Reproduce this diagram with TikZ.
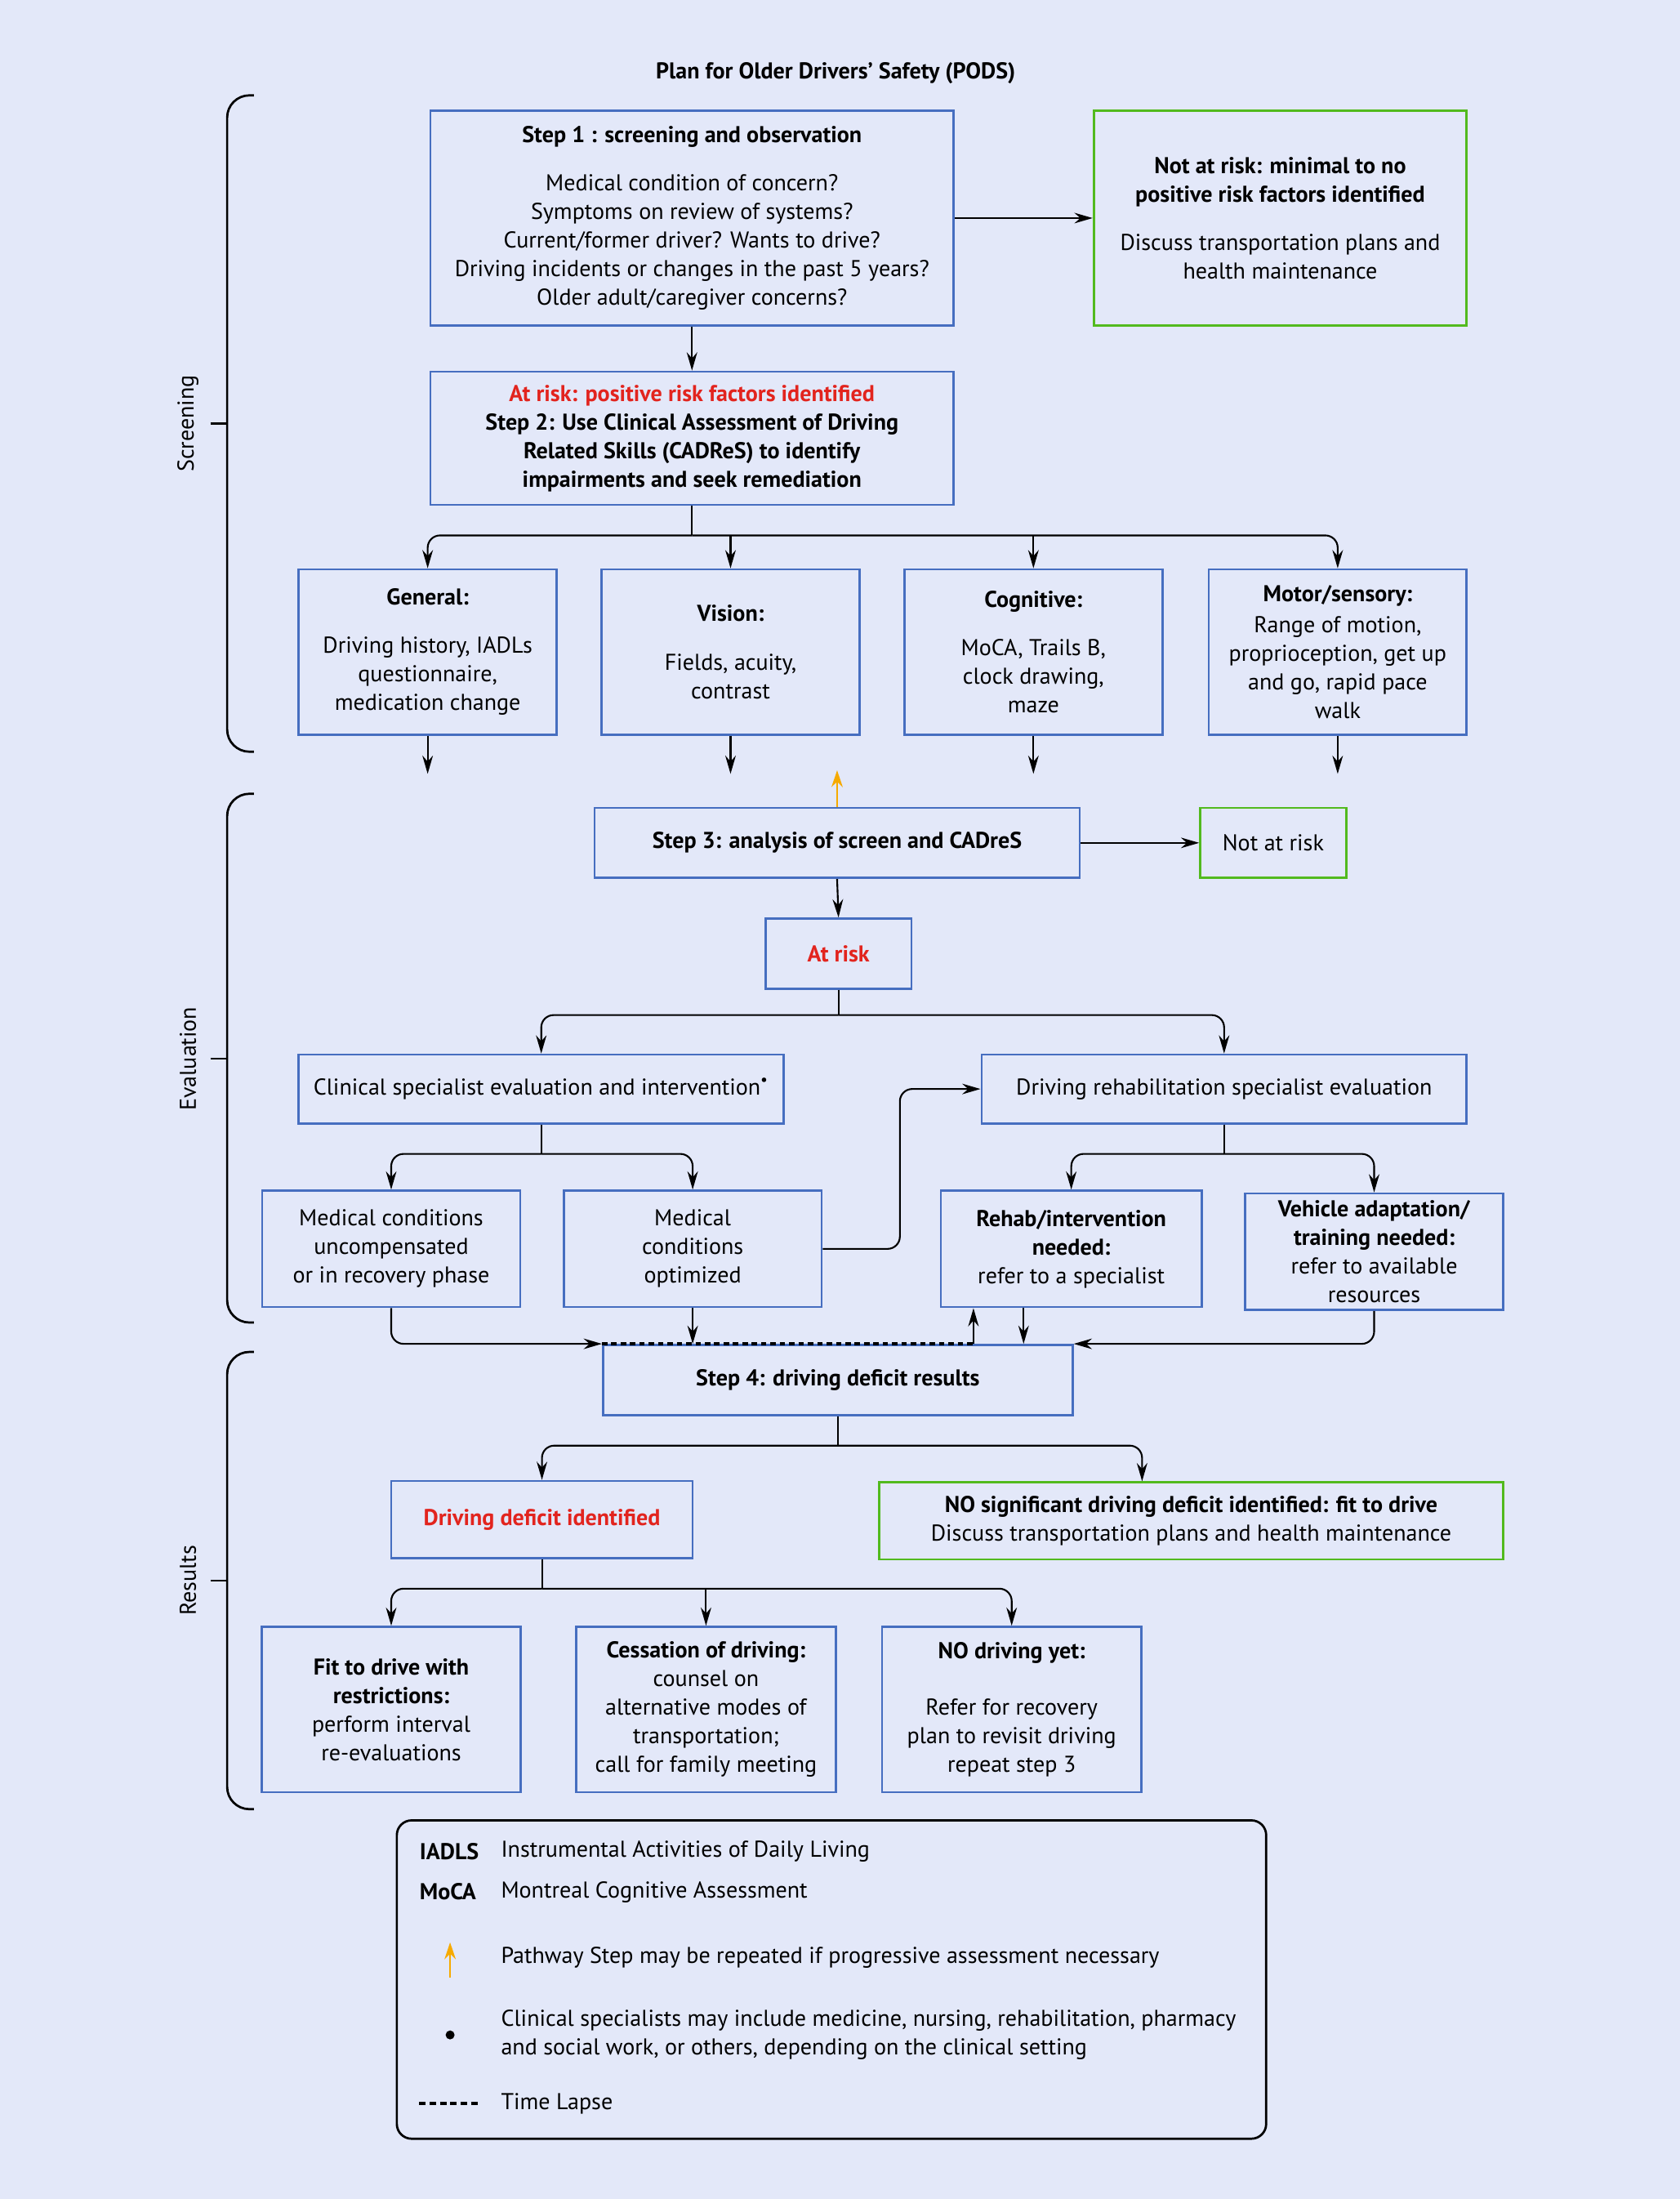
\documentclass[tikz,border=0pt]{standalone}
\usepackage{fontspec}
\setmainfont{PT Sans}
\usetikzlibrary{positioning,arrows.meta,calc}

\definecolor{bgcol}{RGB}{227,232,249}
\definecolor{boxblue}{RGB}{70,110,192}
\definecolor{okgreen}{RGB}{82,186,30}
\definecolor{riskred}{RGB}{226,36,30}
\definecolor{repeatorange}{RGB}{246,170,0}

\begin{document}
\begin{tikzpicture}[x=0.02cm, y=-0.02cm,
  every node/.style={font=\fontsize{9.3}{11.6}\selectfont},
  box/.style={draw=boxblue, line width=0.9pt, align=center, inner sep=1pt},
  okbox/.style={draw=okgreen, line width=0.9pt, align=center, inner sep=1pt},
  arr/.style={-{Stealth[length=2.6mm,width=1.5mm]}, line width=0.7pt},
  legtext/.style={anchor=west, inner sep=0pt, align=left}]

  \fill[bgcol] (0,0) rectangle (1198,1568);
  \useasboundingbox (0,0) rectangle (1198,1568);

  \node (title) at (596,52) {\textbf{Plan for Older Drivers' Safety (PODS)}};

  % Section brackets
  \foreach \top/\bot/\mid/\name in {68/536/302/Screening, 566/943/755/Evaluation, 964/1290/1127/Results} {
    \draw[line width=0.9pt, rounded corners=9pt] (181,\top) -- (162,\top) -- (162,\bot) -- (181,\bot);
    \draw[line width=0.7pt] (150,\mid) -- (162,\mid);
    \node[rotate=90] at (134,\mid) {\name};
  }

  % Step 1 and 2
  \node[box, minimum width=7.46cm, minimum height=3.06cm] (step1) at (493.5,155.5)
    {\textbf{Step 1 : screening and observation}\\[8pt]
     Medical condition of concern?\\ Symptoms on review of systems?\\
     Current/former driver? Wants to drive?\\
     Driving incidents or changes in the past 5 years?\\ Older adult/caregiver concerns?};
  \node[okbox, minimum width=5.32cm, minimum height=3.06cm] (noriskA) at (913,155.5)
    {\textbf{Not at risk: minimal to no}\\ \textbf{positive risk factors identified}\\[8pt]
     Discuss transportation plans and\\ health maintenance};
  \node[box, minimum width=7.46cm, minimum height=1.9cm] (step2) at (493.5,312.5)
    {\textcolor{riskred}{\textbf{At risk: positive risk factors identified}}\\
     \textbf{Step 2: Use Clinical Assessment of Driving}\\
     \textbf{Related Skills (CADReS) to identify}\\
     \textbf{impairments and seek remediation}};

  % CADReS domains
  \node[box, minimum width=3.68cm, minimum height=2.36cm] (general) at (305,465)
    {\textbf{General:}\\[8pt] Driving history, IADLs\\ questionnaire,\\ medication change};
  \node[box, minimum width=3.68cm, minimum height=2.36cm] (vision) at (521,465)
    {\textbf{Vision:}\\[8.5pt] Fields, acuity,\\ contrast};
  \node[box, minimum width=3.68cm, minimum height=2.36cm] (cognitive) at (737,465)
    {\textbf{Cognitive:}\\[8pt] MoCA, Trails B,\\ clock drawing,\\ maze};
  \node[box, minimum width=3.68cm, minimum height=2.36cm] (motor) at (954,465)
    {\textbf{Motor/sensory:}\\[1pt] Range of motion,\\ proprioception, get up\\ and go, rapid pace\\ walk};

  \draw[arr] (step1.east) -- (noriskA.west);
  \draw[arr] (step1.south) -- (step2.north);
  \coordinate (bus2) at ($(step2.south)+(0,21)$);
  \draw[line width=0.7pt] (step2.south) -- (bus2);
  \draw[arr, rounded corners=5pt] (bus2) -| (general.north);
  \draw[arr, rounded corners=5pt] (bus2) -| (motor.north);
  \foreach \n in {vision,cognitive}
    \draw[arr] (\n.north |- bus2) -- (\n.north);
  \foreach \n in {general,vision,cognitive,motor} {
    \coordinate (\n-out) at ($(\n.south)+(0,27)$);
    \draw[arr] (\n.south) -- (\n-out);
  }

  % Step 3
  \node[box, minimum width=6.92cm, minimum height=1cm] (step3) at (597,601)
    {\textbf{Step 3: analysis of screen and CADreS}};
  \node[okbox, minimum width=2.08cm, minimum height=1cm] (noriskB) at (908,601) {Not at risk};
  \node[box, minimum width=2.08cm, minimum height=1cm] (atrisk) at (598,680)
    {\textcolor{riskred}{\textbf{At risk}}};
  \coordinate (repeat) at ($(step3.north)+(0,-26)$);
  \draw[-{Stealth[length=2.4mm,width=1.6mm]}, repeatorange, line width=0.8pt] (step3.north) -- (repeat);
  \draw[arr] (step3.east) -- (noriskB.west);
  \draw[arr] (step3.south) -- (atrisk.north);

  % Evaluation
  \node[box, minimum width=6.92cm, minimum height=0.98cm] (clinical) at (386,776.5)
    {Clinical specialist evaluation and intervention\textsuperscript{\textbullet}};
  \node[box, minimum width=6.92cm, minimum height=0.98cm] (drehab) at (873,776.5)
    {Driving rehabilitation specialist evaluation};
  \coordinate (busA) at ($(atrisk.south)+(0,18)$);
  \draw[line width=0.7pt] (atrisk.south) -- (busA);
  \draw[arr, rounded corners=5pt] (busA) -| (clinical.north);
  \draw[arr, rounded corners=5pt] (busA) -| (drehab.north);

  \node[box, minimum width=3.68cm, minimum height=1.66cm] (uncomp) at (279,890.5)
    {Medical conditions\\ uncompensated\\ or in recovery phase};
  \node[box, minimum width=3.68cm, minimum height=1.66cm] (optim) at (494,890.5)
    {Medical\\ conditions\\ optimized};
  \node[box, minimum width=3.72cm, minimum height=1.66cm] (rehabn) at (764,890.5)
    {\textbf{Rehab/intervention}\\ \textbf{needed:}\\ refer to a specialist};
  \node[box, minimum width=3.68cm, minimum height=1.66cm] (vehicle) at (980,892.5)
    {\textbf{Vehicle adaptation/}\\ \textbf{training needed:}\\ refer to available\\ resources};

  \coordinate (busC) at ($(clinical.south)+(0,21)$);
  \draw[line width=0.7pt] (clinical.south) -- (busC);
  \draw[arr, rounded corners=5pt] (busC) -| (uncomp.north);
  \draw[arr, rounded corners=5pt] (busC) -| (optim.north);
  \coordinate (busD) at ($(drehab.south)+(0,21)$);
  \draw[line width=0.7pt] (drehab.south) -- (busD);
  \draw[arr, rounded corners=5pt] (busD) -| (rehabn.north);
  \draw[arr, rounded corners=5pt] (busD) -| (vehicle.north);
  \draw[arr, rounded corners=5pt] (optim.east) -- ++(55,0) |- (drehab.west);

  % Step 4
  \node[box, minimum width=6.7cm, minimum height=1cm] (step4) at (597.5,984)
    {\textbf{Step 4: driving deficit results}};
  \coordinate (lapse) at ($(step4.north west)+(265,0)$);
  \draw[arr, rounded corners=5pt] (uncomp.south) |- (step4.north west);
  \draw[arr, rounded corners=5pt] (vehicle.south) |- (step4.north east);
  \draw[line width=1.3pt, dash pattern=on 2.2pt off 1.6pt] (step4.north west) -- (lapse);
  \draw[arr] (optim.south) -- (optim.south |- step4.north);
  \draw[arr] (lapse) -- (lapse |- rehabn.south);
  \coordinate (rehab-in) at ($(rehabn.south)+(-34,0)$);
  \draw[arr] (rehab-in) -- (rehab-in |- step4.north);

  % Results
  \node[box, minimum width=4.3cm, minimum height=1.1cm] (deficit) at (386.5,1083.5)
    {\textcolor{riskred}{\textbf{Driving deficit identified}}};
  \node[okbox, minimum width=8.9cm, minimum height=1.1cm] (nosig) at (849.5,1084.5)
    {\textbf{NO significant driving deficit identified: fit to drive}\\
     Discuss transportation plans and health maintenance};
  \coordinate (bus4) at ($(step4.south)+(0,21)$);
  \coordinate (nosig-in) at ($(nosig.north)+(-35,0)$);
  \draw[line width=0.7pt] (step4.south) -- (bus4);
  \draw[arr, rounded corners=5pt] (bus4) -| (deficit.north);
  \draw[arr, rounded corners=5pt] (bus4) -| (nosig-in);

  \node[box, minimum width=3.7cm, minimum height=2.36cm] (fit) at (279,1219)
    {\textbf{Fit to drive with}\\ \textbf{restrictions:}\\ perform interval\\ re-evaluations};
  \node[box, minimum width=3.7cm, minimum height=2.36cm] (cessation) at (503.5,1219)
    {\textbf{Cessation of driving:}\\ counsel on\\ alternative modes of\\ transportation;\\ call for family meeting};
  \node[box, minimum width=3.7cm, minimum height=2.36cm] (nodriving) at (721.5,1219)
    {\textbf{NO driving yet:}\\[11pt] Refer for recovery\\ plan to revisit driving\\ repeat step 3};
  \coordinate (busR) at ($(deficit.south)+(0,21)$);
  \draw[line width=0.7pt] (deficit.south) -- (busR);
  \draw[arr, rounded corners=5pt] (busR) -| (fit.north);
  \draw[arr, rounded corners=5pt] (busR) -| (nodriving.north);
  \draw[arr] (cessation.north |- busR) -- (cessation.north);

  % Legend
  \draw[line width=0.9pt, rounded corners=6pt] (283,1298) rectangle (903,1525);
  \node[legtext] (iadls) at (299,1320) {\textbf{IADLS}};
  \node[legtext] at (357,1320) {Instrumental Activities of Daily Living};
  \node[legtext] (moca) at (299,1349) {\textbf{MoCA}};
  \node[legtext] at (357,1349) {Montreal Cognitive Assessment};
  \draw[-{Stealth[length=2.4mm,width=1.6mm]}, repeatorange, line width=0.8pt] (321,1410) -- (321,1385);
  \node[legtext] at (357,1396) {Pathway Step may be repeated if progressive assessment necessary};
  \fill (321,1451) circle (3.2);
  \node[legtext] at (357,1451) {Clinical specialists may include medicine, nursing, rehabilitation, pharmacy\\
    and social work, or others, depending on the clinical setting};
  \draw[line width=1.3pt, dash pattern=on 2.6pt off 1.6pt] (299,1500) -- (343,1500);
  \node[legtext] at (357,1500) {Time Lapse};

\end{tikzpicture}
\end{document}
